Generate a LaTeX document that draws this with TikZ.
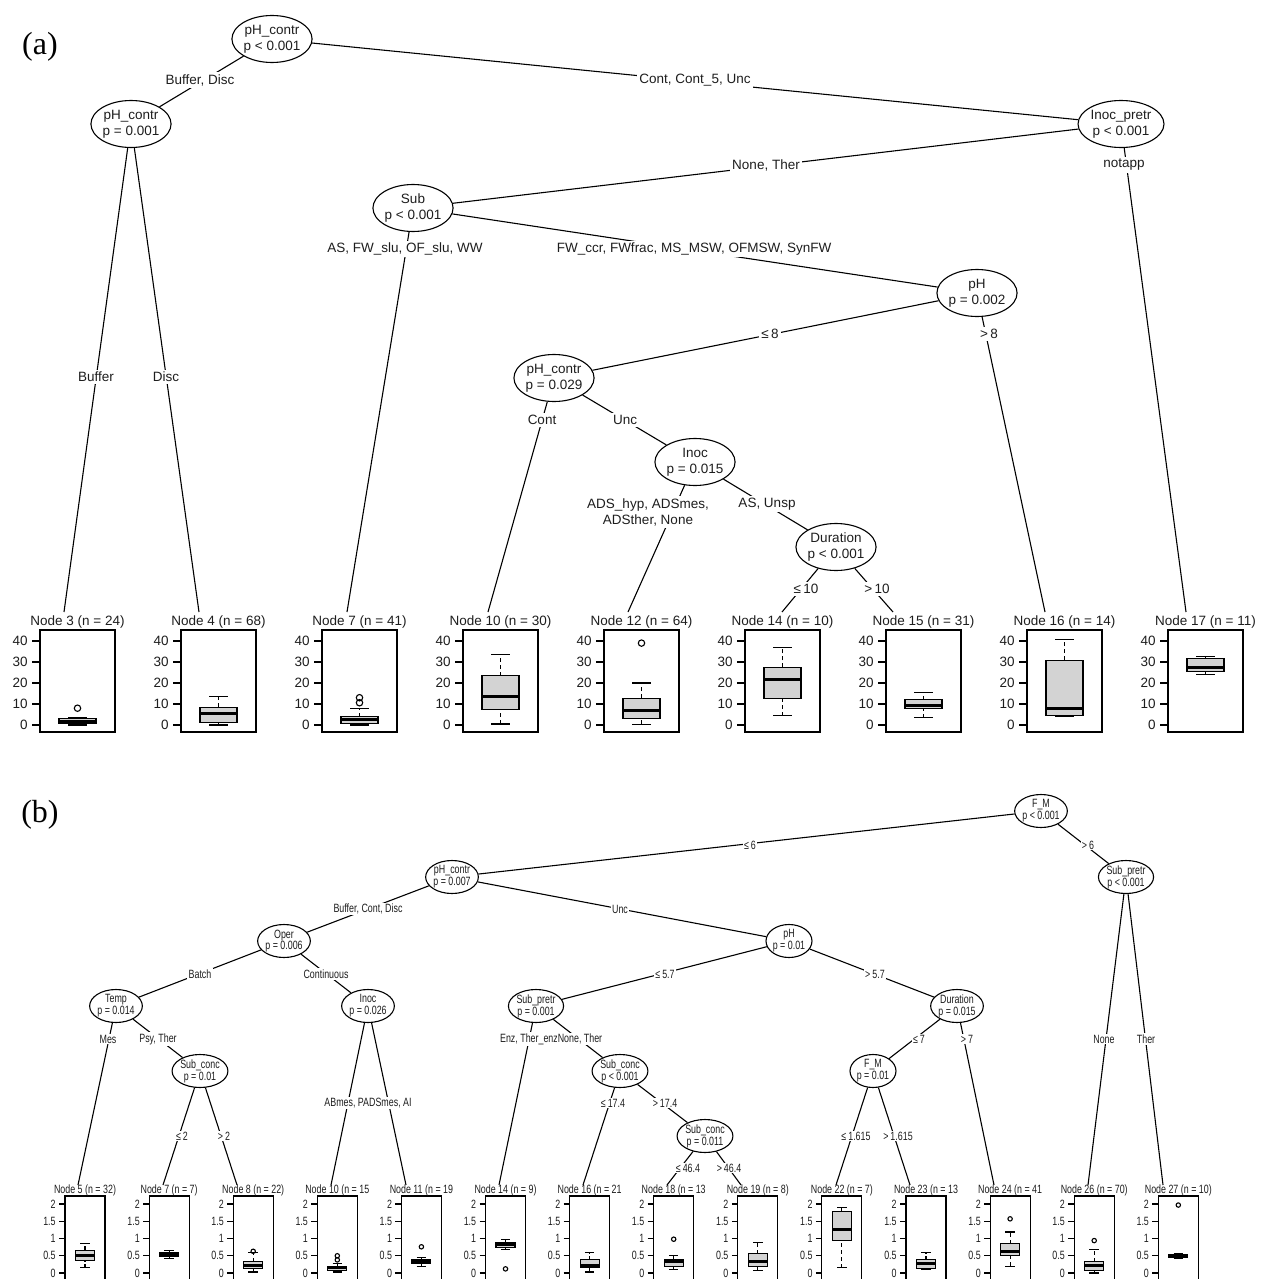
\documentclass[tikz,border=0pt]{standalone}
\usepackage{fontspec}
\setmainfont{Liberation Sans}
\newfontfamily\bfam[FakeStretch=0.74]{Liberation Sans}
\newfontfamily\serfam{Liberation Serif}
\usetikzlibrary{shapes.geometric}
\definecolor{boxgray}{RGB}{211,211,211}
\definecolor{ink}{RGB}{30,30,30}
\newcommand\fA{\fontsize{6.75}{8}\selectfont}
\newcommand\fB{\bfam\fontsize{6}{5.9}\selectfont}
\tikzset{
 ln/.style={line width=0.55pt, draw=black},
 whisk/.style={line width=0.55pt, dash pattern=on 2pt off 1.5pt},
 medl/.style={line width=1.5pt},
 inA/.style={ellipse, draw, line width=0.55pt, fill=white, minimum width=38pt, minimum height=23.5pt, inner sep=0pt, align=center, font=\fA, text=ink},
 inB/.style={ellipse, draw, line width=0.55pt, fill=white, minimum width=23pt, minimum height=16.5pt, inner sep=0pt, align=center, font=\fB, text=ink},
 elA/.style={fill=white, inner sep=1pt, font=\fA, text=ink, align=center},
 elB/.style={fill=white, inner sep=0.6pt, font=\fB, text=ink, align=center},
 ttlA/.style={inner sep=0pt, font=\fA, text=ink},
 ttlB/.style={inner sep=0pt, font=\fB, text=ink},
 tkA/.style={anchor=east, inner sep=0pt, font=\fA, text=ink},
 tkB/.style={anchor=east, inner sep=0pt, font=\fB, text=ink},
 plab/.style={inner sep=0pt, font=\serfam\fontsize{16}{19}\selectfont},
}
% box plot: center x, min, q1, median, q3, max
\newcommand\bxp[6]{%
 \draw[whisk] (#1,{\bY-\bS*(#2)}) -- (#1,{\bY-\bS*(#3)});
 \draw[whisk] (#1,{\bY-\bS*(#5)}) -- (#1,{\bY-\bS*(#6)});
 \draw[ln] ({#1-\bH/2},{\bY-\bS*(#2)}) -- ({#1+\bH/2},{\bY-\bS*(#2)});
 \draw[ln] ({#1-\bH/2},{\bY-\bS*(#6)}) -- ({#1+\bH/2},{\bY-\bS*(#6)});
 \draw[ln,fill=boxgray] ({#1-\bH},{\bY-\bS*(#3)}) rectangle ({#1+\bH},{\bY-\bS*(#5)});
 \draw[medl] ({#1-\bH},{\bY-\bS*(#4)}) -- ({#1+\bH},{\bY-\bS*(#4)});
}
\newcommand\outl[2]{\draw[ln] (#1,{\bY-\bS*(#2)}) circle[radius=\bR];}
% panel (a): name, box left, title
\newcommand\panA[3]{%
 \draw[ln] (#2,630) rectangle ({#2+75},732);
 \draw[ln] (#2,641) -- (#2,725);
 \node[ttlA] (#1) at ({#2+37.5},622) {#3};
 \foreach \v [count=\i] in {0,10,20,30,40}{%
   \draw[ln] ({#2-8},{725-2.1*\v}) -- (#2,{725-2.1*\v});
   \node[tkA] (#1t\i) at ({#2-12},{725-2.1*\v}) {\v};
 }}
% panel (b)
\newcommand\panB[3]{%
 \draw[ln] (#2,1196) rectangle ({#2+40},1290);
 \draw[ln] (#2,1204) -- (#2,1273);
 \node[ttlB] (#1) at ({#2+20},1190) {#3};
 \foreach \v [count=\i] in {0,0.5,1,1.5,2}{%
   \draw[ln] ({#2-6},{1273-34.5*\v}) -- (#2,{1273-34.5*\v});
   \node[tkB] (#1t\i) at ({#2-9},{1273-34.5*\v}) {\v};
 }}
\begin{document}
\begin{tikzpicture}[x=0.5pt,y=-0.5pt]
\useasboundingbox (0,0) rectangle (1266,1279);
\clip (0,0) rectangle (1266,1279);
\fill[white] (0,0) rectangle (1266,1279);

% ================= (a) =================
\node[plab] (labA) at (40,47) {(a)};
\node[inA] (a1) at (272,39) {pH\_contr\\p < 0.001};
\node[inA] (a2) at (131,124) {pH\_contr\\p = 0.001};
\node[inA] (a5) at (1121,124) {Inoc\_pretr\\p < 0.001};
\node[inA] (a6) at (413,208) {Sub\\p < 0.001};
\node[inA] (a8) at (977,293) {pH\\p = 0.002};
\node[inA] (a9) at (554,378) {pH\_contr\\p = 0.029};
\node[inA] (a11) at (695,462) {Inoc\\p = 0.015};
\node[inA] (a13) at (836,547) {Duration\\p < 0.001};

\coordinate (ta3) at (64,612);
\coordinate (ta4) at (199,612);
\coordinate (ta7) at (347,612);
\coordinate (ta10) at (488,612);
\coordinate (ta12) at (628,612);
\coordinate (ta14) at (782,612);
\coordinate (ta15) at (893,612);
\coordinate (ta16) at (1045,612);
\coordinate (ta17) at (1186,612);

\draw[ln] (a1) -- (a2);
\draw[ln] (a1) -- (a5);
\draw[ln] (a2) -- (ta3);
\draw[ln] (a2) -- (ta4);
\draw[ln] (a5) -- (a6);
\draw[ln] (a5) -- (ta17);
\draw[ln] (a6) -- (ta7);
\draw[ln] (a6) -- (a8);
\draw[ln] (a8) -- (a9);
\draw[ln] (a8) -- (ta16);
\draw[ln] (a9) -- (ta10);
\draw[ln] (a9) -- (a11);
\draw[ln] (a11) -- (ta12);
\draw[ln] (a11) -- (a13);
\draw[ln] (a13) -- (ta14);
\draw[ln] (a13) -- (ta15);

\node[elA] (la1) at (200,80) {Buffer, Disc};
\node[elA] (la2) at (695,80) {Cont, Cont\_5, Unc};
\node[elA] (la3) at (96,377) {Buffer};
\node[elA] (la4) at (166,377) {Disc};
\node[elA] (la5) at (766,165) {None, Ther};
\node[elA] (la6) at (1124,165) {notapp};
\node[elA] (la7) at (405,249) {AS, FW\_slu, OF\_slu, WW};
\node[elA] (la8) at (694,249) {FW\_ccr, FWfrac, MS\_MSW, OFMSW, SynFW};
\node[elA] (la9) at (770,334) {≤\,8};
\node[elA] (la10) at (989,334) {>\,8};
\node[elA] (la11) at (542,420) {Cont};
\node[elA] (la12) at (625,420) {Unc};
\node[elA] (la13) at (648,512) {ADS\_hyp, ADSmes,\\ADSther, None};
\node[elA] (la14) at (767,504) {AS, Unsp};
\node[elA] (la15) at (806,589) {≤\,10};
\node[elA] (la16) at (877,589) {>\,10};

\def\bY{725}\def\bS{2.1}\def\bH{18.5}\def\bR{1.6pt}
\panA{Na3}{40}{Node 3 (n = 24)}
\panA{Na4}{181}{Node 4 (n = 68)}
\panA{Na7}{322}{Node 7 (n = 41)}
\panA{Na10}{463}{Node 10 (n = 30)}
\panA{Na12}{604}{Node 12 (n = 64)}
\panA{Na14}{745}{Node 14 (n = 10)}
\panA{Na15}{886}{Node 15 (n = 31)}
\panA{Na16}{1027}{Node 16 (n = 14)}
\panA{Na17}{1168}{Node 17 (n = 11)}
\draw[line width=1.2pt] (40,641) -- (40,725);
\bxp{77.5}{0}{0.8}{1.9}{2.9}{3.5}\outl{77.5}{8}
\bxp{218.5}{0}{1.3}{5.3}{8.5}{13.6}
\bxp{359.5}{0}{0.8}{2.4}{4}{8}\outl{359.5}{10.6}\outl{359.5}{13}
\bxp{500.5}{0.5}{7.5}{13.8}{23.5}{33.4}
\bxp{641.5}{0.3}{3.2}{6.8}{12.8}{20}\outl{641.5}{39}
\bxp{782.5}{4.5}{12.5}{21.8}{27.5}{37}
\bxp{923.5}{3.5}{8}{9.1}{12}{15.5}
\bxp{1064.5}{4}{4.5}{7.7}{30.9}{40.8}
\bxp{1205.5}{24}{25.6}{27.4}{31.5}{32.5}

% ================= (b) =================
\node[plab] (labB) at (40,815) {(b)};
\node[inB] (b1) at (1041,811) {F\_M\\p < 0.001};
\node[inB] (b2) at (452,877) {pH\_contr\\p = 0.007};
\node[inB] (b25) at (1126,877) {Sub\_pretr\\p < 0.001};
\node[inB] (b3) at (284,941) {Oper\\p = 0.006};
\node[inB] (b12) at (789,941) {pH\\p = 0.01};
\node[inB] (b4) at (116,1006) {Temp\\p = 0.014};
\node[inB] (b9) at (368,1006) {Inoc\\p = 0.026};
\node[inB] (b13) at (536,1006) {Sub\_pretr\\p = 0.001};
\node[inB] (b20) at (957,1006) {Duration\\p = 0.015};
\node[inB] (b6) at (200,1071) {Sub\_conc\\p = 0.01};
\node[inB] (b15) at (620,1071) {Sub\_conc\\p < 0.001};
\node[inB] (b21) at (873,1071) {F\_M\\p = 0.01};
\node[inB] (b17) at (705,1136) {Sub\_conc\\p = 0.011};

\coordinate (tb5) at (78,1185);
\coordinate (tb7) at (163,1185);
\coordinate (tb8) at (237,1185);
\coordinate (tb10) at (331,1185);
\coordinate (tb11) at (406,1185);
\coordinate (tb14) at (499,1185);
\coordinate (tb16) at (583,1185);
\coordinate (tb18) at (667,1185);
\coordinate (tb19) at (741,1185);
\coordinate (tb22) at (836,1185);
\coordinate (tb23) at (910,1185);
\coordinate (tb24) at (994,1185);
\coordinate (tb26) at (1088,1185);
\coordinate (tb27) at (1163,1185);

\draw[ln] (b1) -- (b2);
\draw[ln] (b1) -- (b25);
\draw[ln] (b2) -- (b3);
\draw[ln] (b2) -- (b12);
\draw[ln] (b3) -- (b4);
\draw[ln] (b3) -- (b9);
\draw[ln] (b12) -- (b13);
\draw[ln] (b12) -- (b20);
\draw[ln] (b4) -- (tb5);
\draw[ln] (b4) -- (b6);
\draw[ln] (b6) -- (tb7);
\draw[ln] (b6) -- (tb8);
\draw[ln] (b9) -- (tb10);
\draw[ln] (b9) -- (tb11);
\draw[ln] (b13) -- (tb14);
\draw[ln] (b13) -- (b15);
\draw[ln] (b15) -- (tb16);
\draw[ln] (b15) -- (b17);
\draw[ln] (b17) -- (tb18);
\draw[ln] (b17) -- (tb19);
\draw[ln] (b20) -- (b21);
\draw[ln] (b20) -- (tb24);
\draw[ln] (b21) -- (tb22);
\draw[ln] (b21) -- (tb23);
\draw[ln] (b25) -- (tb26);
\draw[ln] (b25) -- (tb27);

\node[elB] (lb1) at (750,845) {≤\,6};
\node[elB] (lb2) at (1088,845) {>\,6};
\node[elB] (lb3) at (368,909) {Buffer, Cont, Disc};
\node[elB] (lb4) at (620,909) {Unc};
\node[elB] (lb5) at (200,974) {Batch};
\node[elB] (lb6) at (326,974) {Continuous};
\node[elB] (lb7) at (665,974) {≤\,5.7};
\node[elB] (lb8) at (875,974) {>\,5.7};
\node[elB] (lb9) at (108,1039) {Mes};
\node[elB] (lb10) at (158,1039) {Psy, Ther};
\node[elB] (lb11) at (529,1039) {Enz, Ther\_enz};
\node[elB] (lb12) at (580,1039) {None, Ther};
\node[elB] (lb13) at (919,1039) {≤\,7};
\node[elB] (lb14) at (967,1039) {>\,7};
\node[elB] (lb15) at (1104,1039) {None};
\node[elB] (lb16) at (1146,1039) {Ther};
\node[elB] (lb17) at (368,1103) {ABmes, PADSmes, AI};
\node[elB] (lb18) at (613,1103) {≤\,17.4};
\node[elB] (lb19) at (665,1103) {>\,17.4};
\node[elB] (lb20) at (182,1136) {≤\,2};
\node[elB] (lb21) at (224,1136) {>\,2};
\node[elB] (lb22) at (856,1136) {≤\,1.615};
\node[elB] (lb23) at (898,1136) {>\,1.615};
\node[elB] (lb24) at (688,1168) {≤\,46.4};
\node[elB] (lb25) at (729,1168) {>\,46.4};

\def\bY{1273}\def\bS{34.5}\def\bH{9.5}\def\bR{1.1pt}
\panB{Nb5}{65}{Node 5 (n = 32)}
\panB{Nb7}{149.1}{Node 7 (n = 7)}
\panB{Nb8}{233.2}{Node 8 (n = 22)}
\panB{Nb10}{317.3}{Node 10 (n = 15}
\panB{Nb11}{401.4}{Node 11 (n = 19}
\panB{Nb14}{485.5}{Node 14 (n = 9)}
\panB{Nb16}{569.6}{Node 16 (n = 21}
\panB{Nb18}{653.7}{Node 18 (n = 13}
\panB{Nb19}{737.8}{Node 19 (n = 8)}
\panB{Nb22}{821.9}{Node 22 (n = 7)}
\panB{Nb23}{906}{Node 23 (n = 13}
\panB{Nb24}{990.1}{Node 24 (n = 41}
\panB{Nb26}{1074.2}{Node 26 (n = 70)}
\panB{Nb27}{1158.3}{Node 27 (n = 10)}
\draw[line width=1.1pt] (65,1204) -- (65,1273);
\bxp{85}{0.15}{0.36}{0.5}{0.66}{0.85}
\bxp{169.1}{0.43}{0.48}{0.54}{0.6}{0.65}
\bxp{253.2}{0.03}{0.12}{0.23}{0.33}{0.6}\outl{253.2}{0.63}
\bxp{337.3}{0.03}{0.075}{0.15}{0.2}{0.28}\outl{337.3}{0.38}\outl{337.3}{0.5}
\bxp{421.4}{0.2}{0.29}{0.34}{0.38}{0.45}\outl{421.4}{0.76}
\bxp{505.5}{0.68}{0.75}{0.83}{0.88}{0.97}\outl{505.5}{0.12}
\bxp{589.6}{0.03}{0.15}{0.22}{0.38}{0.59}
\bxp{673.7}{0.11}{0.2}{0.33}{0.38}{0.5}\outl{673.7}{0.98}
\bxp{757.8}{0.07}{0.2}{0.32}{0.56}{0.89}
\bxp{841.9}{0.15}{0.94}{1.25}{1.78}{1.9}
\bxp{926}{0.09}{0.12}{0.29}{0.38}{0.59}
\bxp{1010.1}{0.2}{0.52}{0.63}{0.85}{1.19}\outl{1010.1}{1.57}
\bxp{1094.2}{0}{0.06}{0.21}{0.33}{0.67}\outl{1094.2}{0.94}
\bxp{1178.3}{0.43}{0.46}{0.5}{0.54}{0.55}\outl{1178.3}{1.97}
\end{tikzpicture}
\end{document}
